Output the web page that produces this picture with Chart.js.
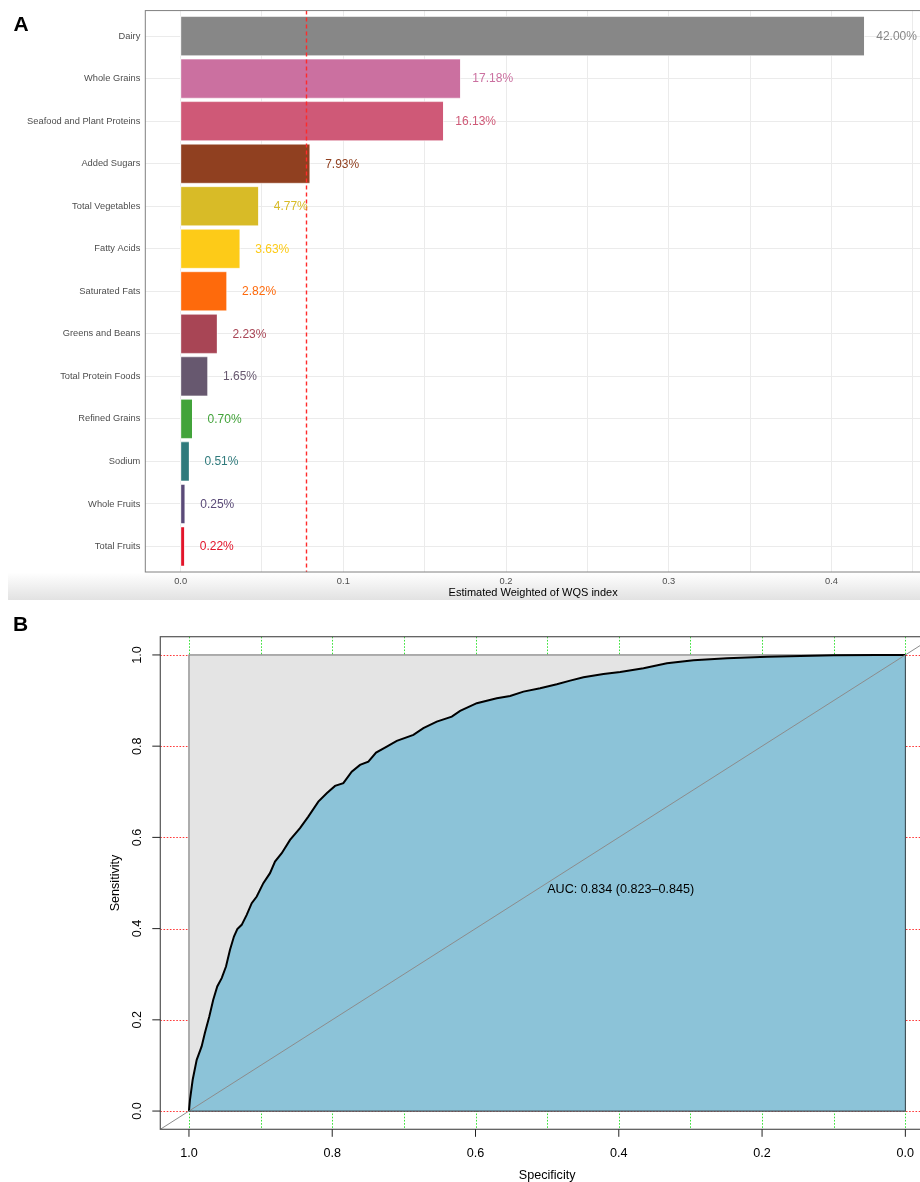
<!DOCTYPE html>
<html>
<head>
<meta charset="utf-8">
<script src="https://cdn.jsdelivr.net/npm/chart.js@4.4.1/dist/chart.umd.min.js"></script>
<style>
  html, body { margin: 0; padding: 0; background: #fff; overflow: hidden; width: 920px; height: 1182px; }
  .panel { position: absolute; left: 0; width: 960px; }
  #panelA { top: 0; height: 600px; }
  #panelB { top: 600px; height: 582px; }
  canvas { display: block; }
</style>
</head>
<body>
<div class="panel" id="panelA"><canvas id="weights" width="960" height="600"></canvas></div>
<div class="panel" id="panelB"><canvas id="roc" width="960" height="582"></canvas></div>

<script>
// ---------- Panel A: estimated WQS weights per dietary component ----------
const components = [
  'Dairy', 'Whole Grains', 'Seafood and Plant Proteins', 'Added Sugars',
  'Total Vegetables', 'Fatty Acids', 'Saturated Fats', 'Greens and Beans',
  'Total Protein Foods', 'Refined Grains', 'Sodium', 'Whole Fruits', 'Total Fruits'
];
const weights = [
  0.4200, 0.1718, 0.1613, 0.0793, 0.0477, 0.0363, 0.0282,
  0.0223, 0.0165, 0.0070, 0.0051, 0.0025, 0.0022
];
const barColors = [
  '#878787', '#cb70a0', '#cf5977', '#904020', '#d8bb27', '#fdcb18', '#fe6a0c',
  '#a84555', '#67586f', '#42a33a', '#2f7a7c', '#5a4a78', '#e2142a'
];
const xMajorTicks = [0, 0.1, 0.2, 0.3, 0.4];
const xTickLabels = ['0.0', '0.1', '0.2', '0.3', '0.4'];
const xMinorTicks = [0.05, 0.15, 0.25, 0.35, 0.45];

// ---------- Panel B: ROC curve ----------
const specificity = [
  1.0000, 0.9986, 0.9948, 0.9892, 0.9823, 0.9777, 0.9716, 0.9661, 0.9605, 0.9543,
  0.9483, 0.9427, 0.9372, 0.9325, 0.9264, 0.9194, 0.9124, 0.9054, 0.8962, 0.8869,
  0.8799, 0.8705, 0.8589, 0.8450, 0.8334, 0.8194, 0.8077, 0.7961, 0.7845, 0.7728,
  0.7612, 0.7496, 0.7388, 0.7239, 0.7099, 0.6867, 0.6728, 0.6541, 0.6331, 0.6215,
  0.5982, 0.5703, 0.5517, 0.5331, 0.5098, 0.4865, 0.4679, 0.4493, 0.4214, 0.3980,
  0.3655, 0.3328, 0.2957, 0.2490, 0.1932, 0.1466, 0.1001, 0.0395, 0.0000
];
const sensitivity = [
  0.0000, 0.0248, 0.0686, 0.1124, 0.1416, 0.1716, 0.2073, 0.2439, 0.2731, 0.2915,
  0.3169, 0.3535, 0.3826, 0.3989, 0.4083, 0.4302, 0.4558, 0.4703, 0.4997, 0.5216,
  0.5470, 0.5654, 0.5946, 0.6202, 0.6456, 0.6785, 0.6969, 0.7129, 0.7188, 0.7442,
  0.7589, 0.7661, 0.7859, 0.7990, 0.8115, 0.8247, 0.8394, 0.8538, 0.8648, 0.8773,
  0.8942, 0.9051, 0.9102, 0.9196, 0.9270, 0.9358, 0.9437, 0.9511, 0.9584, 0.9628,
  0.9709, 0.9818, 0.9884, 0.9928, 0.9963, 0.9978, 0.9993, 1.0000, 1.0000
];
const rocTicks = [1.0, 0.8, 0.6, 0.4, 0.2, 0.0];
const rocTickLabels = ['1.0', '0.8', '0.6', '0.4', '0.2', '0.0'];
const rocGridX = [1.0, 0.9, 0.8, 0.7, 0.6, 0.5, 0.4, 0.3, 0.2, 0.1, 0.0];
const aucText = 'AUC: 0.834 (0.823\u20130.845)';

const FONT = "'Liberation Sans', Arial, Helvetica, sans-serif";
const threshold = 1 / components.length;   // equal-weight reference line
const labelShift = 0.02;                   // value labels sit just past each bar

const weightsDecor = {
  id: 'weightsDecor',
  beforeDraw(chart) {
    const { ctx } = chart;
    const top = chart.chartArea.bottom + 0.5;
    const g = ctx.createLinearGradient(0, top, 0, chart.height);
    g.addColorStop(0, '#ffffff');
    g.addColorStop(1, '#e2e2e2');
    ctx.save();
    ctx.fillStyle = g;
    ctx.fillRect(8, top, chart.width - 8, chart.height - top);
    ctx.restore();
  },
  afterDatasetsDraw(chart) {
    const { ctx, chartArea: a, scales: { x, y } } = chart;
    ctx.save();
    // light outline around each bar
    ctx.strokeStyle = 'rgba(255,255,255,0.55)';
    ctx.lineWidth = 1;
    chart.getDatasetMeta(0).data.forEach(bar => {
      const h = bar.height;
      ctx.strokeRect(bar.base - 0.5, bar.y - h / 2, bar.x - bar.base + 1, h);
    });
    // threshold line
    const tx = Math.round(x.getPixelForValue(threshold)) + 0.5;
    ctx.strokeStyle = '#ff2b2b';
    ctx.lineWidth = 1.4;
    ctx.setLineDash([4, 3]);
    ctx.beginPath();
    ctx.moveTo(tx, a.top);
    ctx.lineTo(tx, a.bottom);
    ctx.stroke();
    ctx.setLineDash([]);
    // value labels
    ctx.font = '12px ' + FONT;
    ctx.textAlign = 'center';
    ctx.textBaseline = 'middle';
    weights.forEach((w, i) => {
      ctx.fillStyle = barColors[i];
      ctx.fillText((w * 100).toFixed(2) + '%', x.getPixelForValue(w + labelShift), y.getPixelForValue(i) + 0.5);
    });
    // panel border
    ctx.strokeStyle = '#808080';
    ctx.lineWidth = 1;
    ctx.strokeRect(a.left, a.top, a.right - a.left, a.bottom - a.top);
    // panel tag
    ctx.fillStyle = '#000';
    ctx.font = 'bold 21px ' + FONT;
    ctx.textAlign = 'left';
    ctx.textBaseline = 'alphabetic';
    ctx.fillText('A', 13.5, 31);
    ctx.restore();
  }
};

new Chart(document.getElementById('weights'), {
  type: 'bar',
  data: {
    datasets: [{
      data: weights.map((w, i) => ({ x: w, y: i })),
      backgroundColor: barColors,
      borderWidth: 0,
      barPercentage: 0.92,
      categoryPercentage: 1
    }]
  },
  options: {
    indexAxis: 'y',
    responsive: false,
    animation: false,
    devicePixelRatio: 1,
    layout: { padding: { left: 0, top: 10.3, right: 39, bottom: 0 } },
    plugins: { legend: { display: false }, tooltip: { enabled: false } },
    scales: {
      x: {
        type: 'linear',
        min: -0.0217,
        max: 0.455,
        afterBuildTicks: s => {
          s.ticks = [...xMajorTicks, ...xMinorTicks].sort((p, q) => p - q).map(v => ({ value: v }));
        },
        afterFit: s => { s.height = 28; },
        ticks: {
          autoSkip: false,
          maxRotation: 0,
          padding: 4,
          color: '#4d4d4d',
          font: { family: FONT, size: 9.3 },
          callback: v => {
            const k = xMajorTicks.indexOf(v);
            return k >= 0 ? xTickLabels[k] : '';
          }
        },
        grid: { color: '#ebebeb', lineWidth: 1, drawTicks: false },
        border: { display: false },
        title: {
          display: true,
          text: 'Estimated Weighted of WQS index',
          color: '#000',
          font: { family: FONT, size: 11 },
          padding: 0
        }
      },
      y: {
        type: 'linear',
        reverse: true,
        offset: false,
        min: -0.6,
        max: components.length - 0.4,
        afterBuildTicks: s => { s.ticks = components.map((_, i) => ({ value: i })); },
        afterFit: s => { s.width = 145.3; },
        ticks: {
          autoSkip: false,
          padding: 5,
          color: '#4d4d4d',
          font: { family: FONT, size: 9.3 },
          callback: v => components[v] ?? ''
        },
        grid: { color: '#ebebeb', lineWidth: 1, drawTicks: false, offset: false },
        border: { display: false }
      }
    }
  },
  plugins: [weightsDecor]
});

// ---------- ROC panel ----------
const axisLimits = [-0.04, 1.04];

const rocDecor = {
  id: 'rocDecor',
  beforeDatasetsDraw(chart) {
    const { ctx, chartArea: a, scales: { x, y } } = chart;
    ctx.save();
    ctx.lineWidth = 1;
    ctx.setLineDash([1.6, 1.6]);
    ctx.strokeStyle = 'rgba(255,20,20,0.85)';
    rocTicks.forEach(v => {
      const py = Math.round(y.getPixelForValue(v)) + 0.5;
      ctx.beginPath(); ctx.moveTo(a.left, py); ctx.lineTo(a.right, py); ctx.stroke();
    });
    ctx.strokeStyle = 'rgba(20,220,20,0.85)';
    rocGridX.forEach(v => {
      const px = Math.round(x.getPixelForValue(v)) + 0.5;
      ctx.beginPath(); ctx.moveTo(px, a.top); ctx.lineTo(px, a.bottom); ctx.stroke();
    });
    ctx.setLineDash([]);
    // unit square (maximum attainable area)
    const x0 = x.getPixelForValue(1), x1 = x.getPixelForValue(0);
    const y0 = y.getPixelForValue(0), y1 = y.getPixelForValue(1);
    ctx.fillStyle = '#e4e4e4';
    ctx.fillRect(x0, y1, x1 - x0, y0 - y1);
    ctx.strokeStyle = '#6a6a6a';
    ctx.strokeRect(x0, y1, x1 - x0, y0 - y1);
    ctx.restore();
  },
  afterDatasetsDraw(chart) {
    const { ctx, chartArea: a, scales: { x, y } } = chart;
    const x0 = x.getPixelForValue(1), x1 = x.getPixelForValue(0);
    const y0 = y.getPixelForValue(0), y1 = y.getPixelForValue(1);
    ctx.save();
    // right and bottom edges of the AUC polygon
    ctx.strokeStyle = '#3a4a52';
    ctx.lineWidth = 1;
    ctx.beginPath();
    ctx.moveTo(x0, y0); ctx.lineTo(x1, y0); ctx.lineTo(x1, y1);
    ctx.stroke();
    // plot frame
    ctx.strokeStyle = '#555';
    ctx.lineWidth = 1.2;
    ctx.strokeRect(a.left, a.top, a.right - a.left, a.bottom - a.top);
    // axes
    ctx.strokeStyle = '#222';
    ctx.lineWidth = 1;
    ctx.fillStyle = '#000';
    ctx.font = '12.6px ' + FONT;
    ctx.textAlign = 'center';
    ctx.textBaseline = 'middle';
    rocTicks.forEach((v, i) => {
      const px = x.getPixelForValue(v);
      ctx.beginPath(); ctx.moveTo(px, a.bottom); ctx.lineTo(px, a.bottom + 7.5); ctx.stroke();
      ctx.fillText(rocTickLabels[i], px, a.bottom + 24);
      const py = y.getPixelForValue(v);
      ctx.beginPath(); ctx.moveTo(a.left, py); ctx.lineTo(a.left - 8, py); ctx.stroke();
      ctx.save();
      ctx.translate(a.left - 22.5, py);
      ctx.rotate(-Math.PI / 2);
      ctx.fillText(rocTickLabels[i], 0, 0);
      ctx.restore();
    });
    ctx.fillText('Specificity', (a.left + a.right) / 2, a.bottom + 46.5);
    ctx.save();
    ctx.translate(a.left - 44.5, (a.top + a.bottom) / 2);
    ctx.rotate(-Math.PI / 2);
    ctx.fillText('Sensitivity', 0, 0);
    ctx.restore();
    // AUC annotation
    ctx.textAlign = 'left';
    ctx.textBaseline = 'top';
    ctx.fillText(aucText, x.getPixelForValue(0.5), y.getPixelForValue(0.5));
    // panel tag
    ctx.font = 'bold 21px ' + FONT;
    ctx.textBaseline = 'alphabetic';
    ctx.fillText('B', 13, 30.5);
    ctx.restore();
  }
};

new Chart(document.getElementById('roc'), {
  type: 'line',
  data: {
    datasets: [
      {
        data: specificity.map((s, i) => ({ x: s, y: sensitivity[i] })),
        borderColor: '#000',
        borderWidth: 2,
        backgroundColor: '#8cc3d8',
        fill: 'origin',
        pointRadius: 0,
        tension: 0,
        order: 1
      },
      {
        data: axisLimits.map(s => ({ x: s, y: 1 - s })),
        borderColor: '#8c8c8c',
        borderWidth: 1,
        pointRadius: 0,
        fill: false,
        order: 0
      }
    ]
  },
  options: {
    responsive: false,
    animation: false,
    devicePixelRatio: 1,
    layout: { padding: { left: 160.3, top: 36.7, right: 26, bottom: 52.7 } },
    plugins: { legend: { display: false }, tooltip: { enabled: false } },
    scales: {
      x: { type: 'linear', reverse: true, min: axisLimits[0], max: axisLimits[1], display: false },
      y: { type: 'linear', min: axisLimits[0], max: axisLimits[1], display: false }
    }
  },
  plugins: [rocDecor]
});
</script>
</body>
</html>
